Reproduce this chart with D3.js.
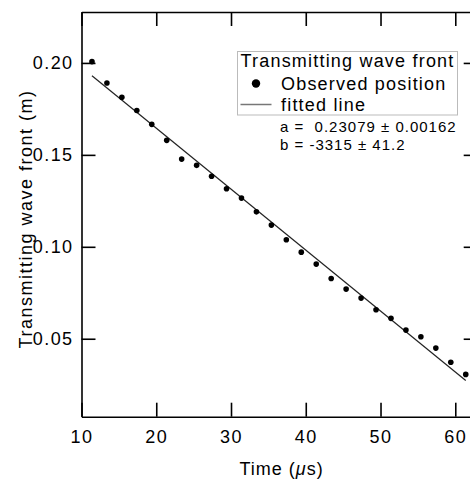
<!DOCTYPE html>
<html>
  <head>
    <script type="text/javascript" src="https://cdn.jsdelivr.net/npm/d3@7"></script>
    <style type="text/css">

html, body {
  margin: 0;
  background: #fff;
}

svg {
  display: block;
  font-family: "Liberation Sans", Arial, Helvetica, sans-serif;
}

.axis path, .axis line {
  stroke: #000;
  stroke-width: 1.6px;
}

.axis text {
  font-size: 18px;
  letter-spacing: 1.4px;
  fill: #000;
}

    </style>
  </head>
  <body>
    <div id="chart"></div>
    <script type="text/javascript">

// observed wave front positions (time in us, position in m)
var times = [11.4, 13.4, 15.4, 17.4, 19.4, 21.4, 23.4, 25.4, 27.4, 29.4, 31.4, 33.4, 35.4,
             37.4, 39.4, 41.4, 43.4, 45.4, 47.4, 49.4, 51.4, 53.4, 55.4, 57.4, 59.4, 61.4];
var positions = [0.2007, 0.1891, 0.1813, 0.1741, 0.1666, 0.1579, 0.1477, 0.1443, 0.1384,
                 0.1316, 0.1265, 0.1190, 0.1118, 0.1038, 0.0971, 0.0906, 0.0828, 0.0770,
                 0.0721, 0.0658, 0.0611, 0.0547, 0.0511, 0.0449, 0.0372, 0.0306];

// fit y = a + b*t (t in seconds)
var fitA = 0.23079, fitB = -3315;
var fitText = ["a =  0.23079 \u00b1 0.00162", "b = -3315 \u00b1 41.2"];

var xTicks = [10, 20, 30, 40, 50, 60];
var yTicks = [0.05, 0.10, 0.15, 0.20];

var width = 470, height = 481;
var plotLeft = 81.5, plotRight = 477.7, plotTop = 12, plotBottom = 416.7;

var svg = d3.select("#chart").append("svg")
    .attr("width", width)
    .attr("height", height);

var x = d3.scaleLinear().domain([10, 63]).range([plotLeft, plotRight]);
var y = d3.scaleLinear().domain([0.0076, 0.2277]).range([plotBottom, plotTop]);

// axes, ticks pointing inward on all four sides
svg.append("g").attr("class", "axis")
    .attr("transform", "translate(0," + plotBottom + ")")
    .call(d3.axisBottom(x).tickValues(xTicks).tickSizeInner(-14).tickSizeOuter(0)
      .tickPadding(13.5).tickFormat(d3.format("d")));

svg.append("g").attr("class", "axis")
    .attr("transform", "translate(0," + plotTop + ")")
    .call(d3.axisTop(x).tickValues(xTicks).tickSizeInner(-14).tickSizeOuter(0)
      .tickFormat(""));

svg.append("g").attr("class", "axis")
    .attr("transform", "translate(" + plotLeft + ",0)")
    .call(d3.axisLeft(y).tickValues(yTicks).tickSizeInner(-14).tickSizeOuter(0)
      .tickPadding(8).tickFormat(d3.format(".2f")));

svg.append("g").attr("class", "axis")
    .attr("transform", "translate(" + plotRight + ",0)")
    .call(d3.axisRight(y).tickValues(yTicks).tickSizeInner(-14).tickSizeOuter(0)
      .tickFormat(""));

// axis titles
svg.append("text")
    .attr("x", (plotLeft + plotRight) / 2 + 2)
    .attr("y", 475)
    .attr("text-anchor", "middle")
    .style("font-size", "18px")
    .style("letter-spacing", "1px")
    .html("Time (<tspan font-style='italic'>\u03bc</tspan>s)");

svg.append("text")
    .attr("transform", "translate(32,219) rotate(-90)")
    .attr("text-anchor", "middle")
    .style("font-size", "18px")
    .style("letter-spacing", "1.5px")
    .text("Transmitting wave front (m)");

// fitted line
var fitLine = d3.line()
    .x(function(t) { return x(t); })
    .y(function(t) { return y(fitA + fitB * t * 1e-6); });

svg.append("path")
    .attr("d", fitLine([times[0], times[times.length - 1]]))
    .attr("fill", "none")
    .attr("stroke", "#222")
    .attr("stroke-width", 1.2);

// observed points
svg.append("g").selectAll("circle")
    .data(times)
  .enter().append("circle")
    .attr("cx", function(t) { return x(t); })
    .attr("cy", function(t, i) { return y(positions[i]); })
    .attr("r", 2.8)
    .attr("fill", "#000");

// legend
var legend = svg.append("g");

legend.append("rect")
    .attr("x", 237.5).attr("y", 51.5)
    .attr("width", 220).attr("height", 63.5)
    .attr("fill", "#fff")
    .attr("stroke", "#bbb")
    .attr("stroke-width", 1);

legend.append("text")
    .attr("x", 240.5).attr("y", 67)
    .style("font-size", "18px").style("letter-spacing", "1.2px")
    .text("Transmitting wave front");

legend.append("circle")
    .attr("cx", 256).attr("cy", 83.5).attr("r", 4.2).attr("fill", "#000");

legend.append("text")
    .attr("x", 281).attr("y", 90)
    .style("font-size", "18px").style("letter-spacing", "1.2px")
    .text("Observed position");

legend.append("line")
    .attr("x1", 240.5).attr("x2", 271.5)
    .attr("y1", 104.5).attr("y2", 104.5)
    .attr("stroke", "#777").attr("stroke-width", 1.5);

legend.append("text")
    .attr("x", 281).attr("y", 110.5)
    .style("font-size", "18px").style("letter-spacing", "1.2px")
    .text("fitted line");

svg.append("g").selectAll("text")
    .data(fitText)
  .enter().append("text")
    .attr("x", 280)
    .attr("y", function(d, i) { return 132 + i * 18; })
    .style("font-size", "15px")
    .style("letter-spacing", "1px")
    .style("white-space", "pre")
    .text(function(d) { return d; });

    </script>
  </body>
</html>
